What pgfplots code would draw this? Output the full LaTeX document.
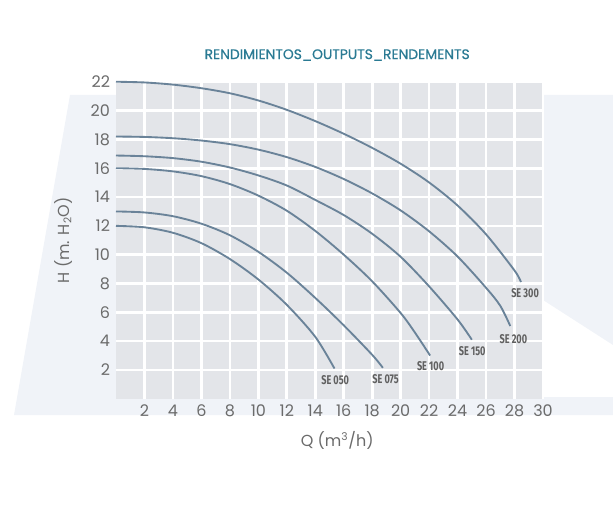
\documentclass[border=0pt]{standalone}
\usepackage{fontspec}
\setmainfont{Poppins}
\newfontfamily\condfont[FakeStretch=0.72]{Fira Sans}
\newfontfamily\titlefont[FakeBold=0.6]{Poppins}
\usepackage{pgfplots}
\pgfplotsset{compat=1.18}
\definecolor{curve}{HTML}{6A8399}
\definecolor{titlec}{HTML}{2A7A93}
\definecolor{tickc}{HTML}{6B6B6B}
\definecolor{plotbg}{HTML}{E3E5E9}
\definecolor{wm}{HTML}{F0F3F8}
\tikzset{pc/.style={curve, solid, line width=1.4pt, smooth, mark=none}}
\begin{document}
\begin{tikzpicture}
\path[use as bounding box] (-87pt,-83.4pt) rectangle (372.75pt,299.1pt);
\begin{scope}[x=0.75pt,y=-0.75pt,shift={(-87pt,299.1pt)}]
\fill[wm] (70,95) -- (613,95) -- (613,345) -- (543,300) -- (543,397) -- (613,397) -- (613,415) -- (14,415) -- cycle;
\end{scope}
\begin{axis}[
  scale only axis,
  width=320.25pt, height=237.8pt,
  xmin=0, xmax=30, ymin=0, ymax=22,
  xtick={2,4,...,30}, ytick={2,4,...,22},
  grid=major,
  major grid style={white, line width=2pt},
  axis line style={draw=none},
  major tick length=0pt,
  axis background/.style={fill=plotbg},
  tick label style={font=\fontsize{12}{14}\selectfont, text=tickc},
  /pgf/number format/assume math mode=true,
  xticklabel style={yshift=-1pt},
  yticklabel style={xshift=-1pt},
  title={RENDIMIENTOS\_OUTPUTS\_RENDEMENTS},
  title style={at={(axis description cs:0.518,1.059)}, anchor=center, text=titlec, font=\titlefont\fontsize{10.4}{12}\selectfont},
  xlabel={Q (m\textsuperscript{3}/h)},
  xlabel style={at={(axis description cs:0.518,-0.13)}, anchor=center, text=tickc, font=\fontsize{12}{14}\selectfont},
  ylabel={H (m. H\textsubscript{2}O)},
  ylabel style={at={(axis description cs:-0.124,0.5)}, anchor=center, text=tickc, font=\fontsize{12}{14}\selectfont},
  clip=false,
]
% SE 050
\addplot[pc] coordinates {(0,12) (2,11.9) (4,11.52) (6,10.8) (8,9.7) (10,8.28) (12,6.52) (14,4.3) (15.35,2.1)};
% SE 075
\addplot[pc] coordinates {(0,13) (2,12.93) (4,12.67) (6,12.15) (8,11.35) (10,10.2) (12,8.75) (14,7.0) (16,5.1) (18,3.05) (18.75,2.15)};
% SE 100
\addplot[pc] coordinates {(0,16) (2,15.95) (4,15.78) (6,15.45) (8,14.9) (10,14.1) (12,13.05) (14,11.65) (16,10.0) (18,8.15) (20,5.95) (21,4.6) (22.07,3.0)};
% SE 150
\addplot[pc] coordinates {(0,16.88) (2,16.83) (4,16.7) (6,16.45) (8,16.05) (10,15.5) (12,14.8) (14,13.8) (16,12.75) (18,11.45) (20,9.85) (22,7.8) (24,5.5) (25,4.1)};
% SE 200
\addplot[pc] coordinates {(0,18.2) (2,18.17) (4,18.08) (6,17.92) (8,17.67) (10,17.29) (12,16.77) (14,16.09) (16,15.25) (18,14.25) (20,13.07) (22,11.62) (24,9.87) (26,7.7) (27,6.45) (27.7,5.05)};
% SE 300
\addplot[pc] coordinates {(0,22) (2,21.95) (4,21.8) (6,21.55) (8,21.2) (10,20.7) (12,20.05) (14,19.27) (16,18.39) (18,17.41) (20,16.31) (22,15.01) (24,13.41) (26,11.41) (28,8.9) (28.45,8.1)};
\begin{scope}[every node/.style={font=\condfont\fontsize{9.5}{11}\selectfont\bfseries, text=tickc!90!black, inner sep=0pt}]
\node at (axis cs:15.4,1.3) {SE 050};
\node at (axis cs:18.94,1.38) {SE 075};
\node at (axis cs:22.1,2.29) {SE 100};
\node at (axis cs:25.03,3.34) {SE 150};
\node at (axis cs:27.92,4.15) {SE 200};
\node at (axis cs:28.74,7.32) {SE 300};
\end{scope}
\end{axis}
\end{tikzpicture}
\end{document}
